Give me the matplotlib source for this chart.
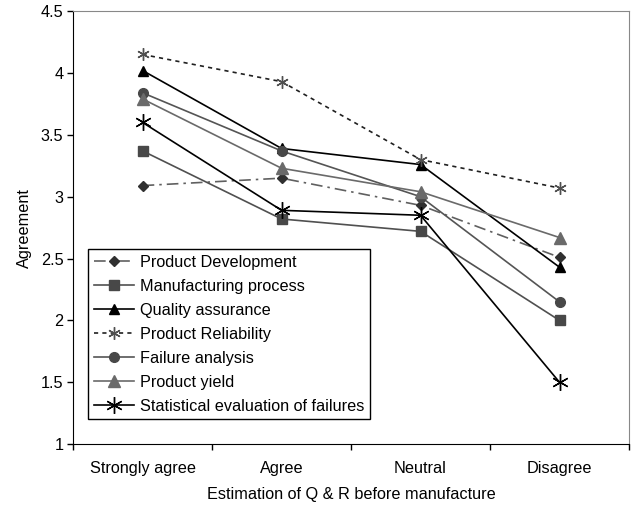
import matplotlib
matplotlib.use('Agg')

import matplotlib.pyplot as plt

plt.rcParams['font.family'] = ['Liberation Sans', 'DejaVu Sans']
FS = 11.7

categories = ['Strongly agree', 'Agree', 'Neutral', 'Disagree']

product_development = [3.09, 3.15, 2.93, 2.51]
manufacturing_process = [3.37, 2.82, 2.72, 2.00]
quality_assurance = [4.02, 3.39, 3.26, 2.43]
product_reliability = [4.15, 3.93, 3.30, 3.07]
failure_analysis = [3.84, 3.37, 3.00, 2.15]
product_yield = [3.79, 3.23, 3.04, 2.67]
statistical_evaluation = [3.60, 2.89, 2.85, 1.50]

fig = plt.figure(figsize=(6.36, 5.07), dpi=100)
ax = fig.add_axes([0.115, 0.124, 0.874, 0.854])

x = [i + 0.5 for i in range(len(categories))]

ax.plot(x, product_development, color='#606060', lw=1.2, dashes=(7, 3, 1.5, 3),
        marker='D', ms=5, mfc='#303030', mec='#303030', label='Product Development')
ax.plot(x, manufacturing_process, color='#505050', lw=1.2,
        marker='s', ms=7, mfc='#484848', mec='#484848', label='Manufacturing process')
ax.plot(x, quality_assurance, color='black', lw=1.2,
        marker='^', ms=7, mfc='black', mec='black', label='Quality assurance')
ax.plot(x, product_reliability, color='#202020', lw=1.2, dashes=(2.5, 2.5),
        marker=(6, 2, 0), ms=9, mec='#505050', mew=1.0, label='Product Reliability')
ax.plot(x, failure_analysis, color='#555555', lw=1.2,
        marker='o', ms=7, mfc='#484848', mec='#484848', label='Failure analysis')
ax.plot(x, product_yield, color='#6a6a6a', lw=1.2,
        marker='^', ms=8, mfc='#6a6a6a', mec='#6a6a6a', label='Product yield')
ax.plot(x, statistical_evaluation, color='black', lw=1.2,
        marker=(6, 2, 0), ms=12, mec='black', mew=1.0,
        label='Statistical evaluation of failures')

ax.set_xlim(0, len(categories))
ax.set_ylim(1, 4.5)
ax.set_yticks([1, 1.5, 2, 2.5, 3, 3.5, 4, 4.5])
ax.set_yticklabels(['1', '1.5', '2', '2.5', '3', '3.5', '4', '4.5'])
ax.set_xticks(range(len(categories) + 1))
ax.set_xticklabels([])
ax.set_xticks(x, minor=True)
ax.set_xticklabels(categories, minor=True)
ax.tick_params(axis='x', which='minor', length=0, pad=12, labelsize=FS)
ax.tick_params(axis='x', which='major', direction='out', length=4, width=1)
ax.tick_params(axis='y', direction='out', length=4, width=1, pad=3, labelsize=FS)

for side in ('top', 'right'):
    ax.spines[side].set_color('#888888')
for side in ('left', 'bottom'):
    ax.spines[side].set_color('black')

ax.set_xlabel('Estimation of Q & R before manufacture', fontsize=FS, labelpad=8)
ax.set_ylabel('Agreement', fontsize=FS, labelpad=6)

leg = ax.legend(loc='upper left', bbox_to_anchor=(0.027, 0.450), borderaxespad=0,
                fontsize=FS, handlelength=2.45, handletextpad=0.37,
                labelspacing=0.55, borderpad=0.35, fancybox=False, framealpha=1)
leg.get_frame().set_edgecolor('black')
leg.get_frame().set_linewidth(1.0)

plt.savefig('out.png', dpi=100)
plt.close(fig)
